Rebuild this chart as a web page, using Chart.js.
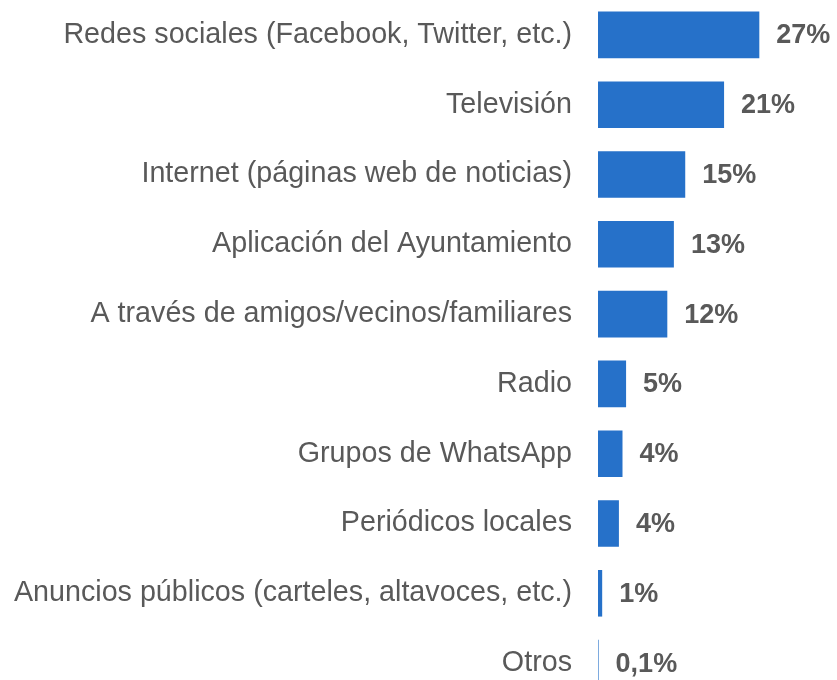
<!DOCTYPE html>
<html>
<head>
<meta charset="utf-8">
<script src="https://cdn.jsdelivr.net/npm/chart.js@4/dist/chart.umd.min.js"></script>
<style>
  html, body { margin: 0; padding: 0; background: #fff; overflow: hidden; }
</style>
</head>
<body>
<canvas id="grafico" width="837" height="698"></canvas>
<script>
const categorias = [
  'Redes sociales (Facebook, Twitter, etc.)',
  'Televisión',
  'Internet (páginas web de noticias)',
  'Aplicación del Ayuntamiento',
  'A través de amigos/vecinos/familiares',
  'Radio',
  'Grupos de WhatsApp',
  'Periódicos locales',
  'Anuncios públicos (carteles, altavoces, etc.)',
  'Otros'
];
const valores = [27, 21.1, 14.6, 12.7, 11.6, 4.7, 4.1, 3.5, 0.7, 0.1];
const etiquetas = ['27%', '21%', '15%', '13%', '12%', '5%', '4%', '4%', '1%', '0,1%'];

const gris = '#595959';
const fuente = '"Liberation Sans", Arial, Helvetica, sans-serif';

// etiquetas de valor a la derecha de cada barra
const etiquetasValor = {
  id: 'etiquetasValor',
  afterDatasetsDraw(chart) {
    const c = chart.ctx;
    const meta = chart.getDatasetMeta(0);
    c.save();
    c.font = 'bold 27px ' + fuente;
    c.fillStyle = gris;
    c.textAlign = 'left';
    c.textBaseline = 'middle';
    meta.data.forEach((bar, i) => {
      c.fillText(etiquetas[i], bar.x + 17, bar.y + 1);
    });
    c.restore();
  }
};

const ctx = document.getElementById('grafico').getContext('2d');
new Chart(ctx, {
  type: 'bar',
  data: {
    labels: categorias,
    datasets: [{
      data: valores,
      backgroundColor: '#2671C9',
      borderWidth: 0,
      barPercentage: 0.667,
      categoryPercentage: 1
    }]
  },
  options: {
    indexAxis: 'y',
    responsive: false,
    animation: false,
    layout: { padding: 0 },
    plugins: {
      legend: { display: false },
      tooltip: { enabled: false }
    },
    scales: {
      x: { display: false, min: 0, max: 40 },
      y: {
        grid: { display: false, drawTicks: false },
        border: { display: false },
        ticks: {
          color: gris,
          padding: 26,
          font: { family: fuente, size: 28.7 }
        },
        afterFit(s) {
          s.width = 598;
          s.paddingTop = 0;
          s.paddingBottom = 0;
        }
      }
    }
  },
  plugins: [etiquetasValor]
});
</script>
</body>
</html>
